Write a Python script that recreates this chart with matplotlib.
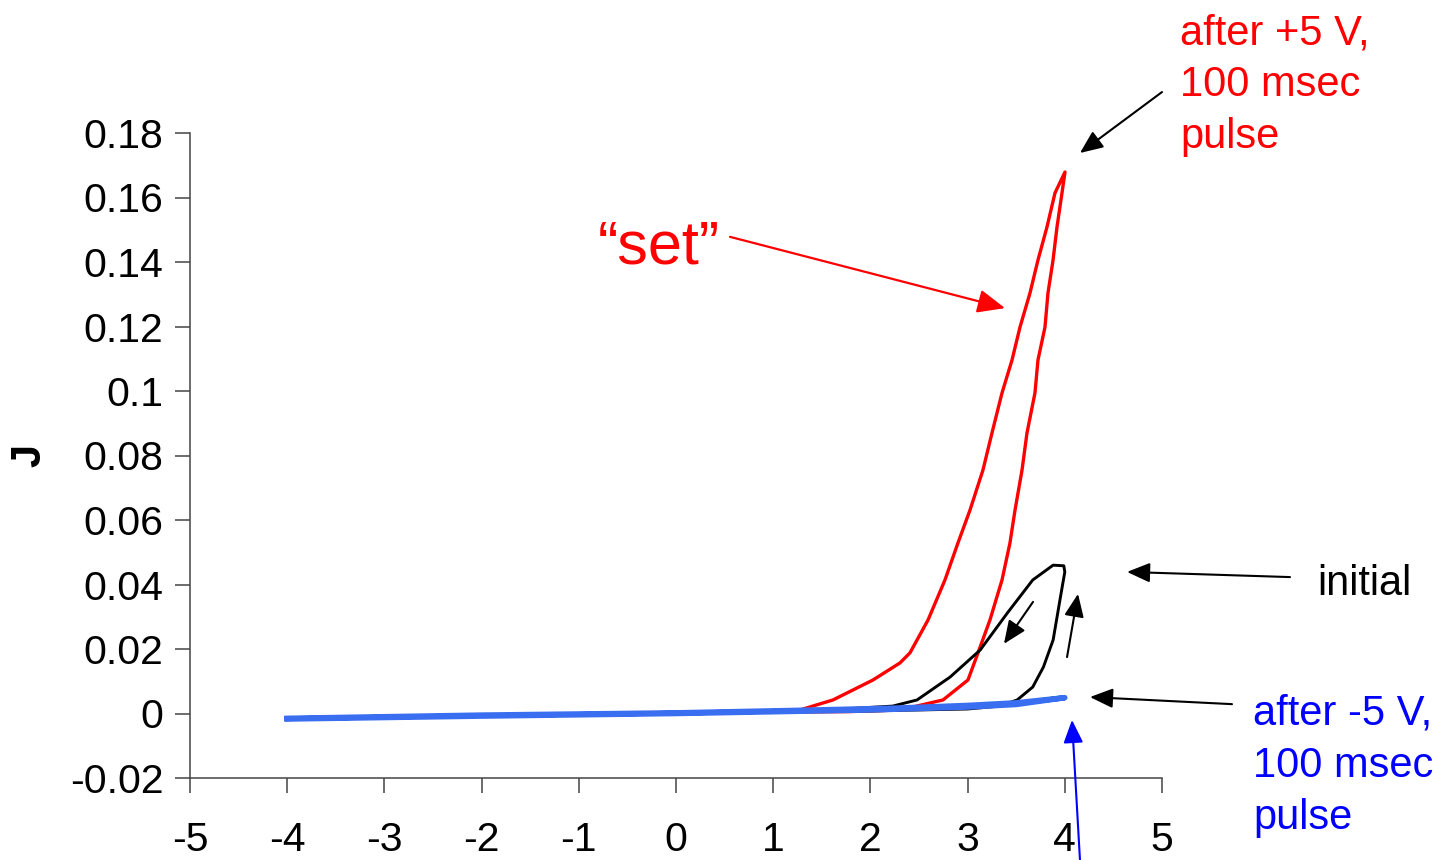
import matplotlib.pyplot as plt

plt.rcParams['font.family'] = ['Liberation Sans', 'DejaVu Sans']

# red loop ("set", after +5 V pulse): baseline out, right branch up, left branch down
red_v = [-4.0, -3.0, -2.0, -1.0, 0.0, 1.0, 1.79, 2.305, 2.747, 3.004, 3.107, 3.23,
         3.354, 3.436, 3.488, 3.56, 3.611, 3.693, 3.724, 3.796, 3.827, 3.879, 3.92,
         3.971, 4.002,
         3.899, 3.817, 3.724, 3.642, 3.539, 3.457, 3.354, 3.251, 3.158, 3.025, 2.901,
         2.767, 2.593, 2.407, 2.305, 2.027, 1.615, 1.276, 0.247, -1.0, -2.0, -3.0, -4.0]
red_j = [-0.0017, -0.0011, -0.0006, -0.0002, 0.0001, 0.0004, 0.0006, 0.0011, 0.0042,
         0.0104, 0.0188, 0.029, 0.0414, 0.0529, 0.0631, 0.0755, 0.087, 0.0994, 0.1096,
         0.1198, 0.1304, 0.1406, 0.1509, 0.1614, 0.1679,
         0.1614, 0.1509, 0.1406, 0.1304, 0.1198, 0.1096, 0.0994, 0.087, 0.0755, 0.0631,
         0.0529, 0.0414, 0.029, 0.0188, 0.0157, 0.0104, 0.0042, 0.0011, 0.0003,
         -0.0001, -0.0005, -0.001, -0.0016]

# black loop (initial)
init_v = [-4.0, -2.0, 0.0, 2.0, 3.0, 3.33, 3.51, 3.67, 3.78, 3.88, 3.95, 4.0, 3.99, 3.88,
          3.67, 3.41, 3.13, 2.82, 2.48, 2.23, 1.5, 0.0, -2.0, -4.0]
init_j = [-0.0014, -0.0006, 0.0001, 0.0008, 0.0014, 0.0023, 0.0042, 0.0082, 0.0144,
          0.0228, 0.0352, 0.0439, 0.0458, 0.046, 0.0414, 0.0312, 0.0197, 0.0113,
          0.0042, 0.0023, 0.001, 0.0002, -0.0006, -0.0014]

# blue (after -5 V pulse)
reset_v = [-4.0, -2.0, 0.0, 1.3, 2.3, 3.0, 3.5, 4.0, 3.5, 3.0, 2.0, 0.0, -2.0, -4.0]
reset_j = [-0.0015, -0.0005, 0.0002, 0.001, 0.0017, 0.0025, 0.0033, 0.0049,
           0.0028, 0.002, 0.0011, 0.0, -0.0008, -0.0017]

x_ticks = [-5, -4, -3, -2, -1, 0, 1, 2, 3, 4, 5]
x_labels = ['-5', '-4', '-3', '-2', '-1', '0', '1', '2', '3', '4', '5']
y_ticks = [-0.02, 0, 0.02, 0.04, 0.06, 0.08, 0.1, 0.12, 0.14, 0.16, 0.18]
y_labels = ['-0.02', '0', '0.02', '0.04', '0.06', '0.08', '0.1', '0.12', '0.14',
            '0.16', '0.18']

fig = plt.figure(figsize=(14.41, 8.6), dpi=100)
ax = fig.add_axes([190 / 1441, 82 / 860, 972 / 1441, 645 / 860])

ax.plot(red_v, red_j, color='#ff0000', lw=2.4, zorder=2)
ax.plot(init_v, init_j, color='black', lw=2.1, zorder=3)
ax.plot(reset_v, reset_j, color='#3a6ef0', lw=4.0, zorder=4)

ax.set_xlim(-5, 5)
ax.set_ylim(-0.02, 0.18)
ax.set_xticks(x_ticks, x_labels)
ax.set_yticks(y_ticks, y_labels)
ax.tick_params(labelsize=29.5, length=11, width=1.1, color='#444444')
ax.tick_params(axis='x', pad=20)
ax.tick_params(axis='y', pad=8)
for s in ['top', 'right']:
    ax.spines[s].set_visible(False)
for s in ['left', 'bottom']:
    ax.spines[s].set_color('#444444')
    ax.spines[s].set_linewidth(1.1)

fig.text(29 / 1441, 1 - 455 / 860, 'J', rotation=90, fontsize=30,
         fontweight='bold', ha='center', va='center')

# annotations
fig.text(1180 / 1441, 1 - 13 / 860, 'after +5 V,\n100 msec\npulse', color='#ff0000',
         fontsize=30, ha='left', va='top', linespacing=1.39)
fig.text(1253 / 1441, 1 - 694 / 860, 'after -5 V,\n100 msec\npulse', color='#0000ff',
         fontsize=30, ha='left', va='top', linespacing=1.39)
fig.text(1317 / 1441, 1 - 595 / 860, 'initial', color='black', fontsize=30,
         ha='left', va='baseline')
fig.text(598 / 1441, 1 - 264 / 860, '\u201cset\u201d', color='#ff0000', fontsize=44,
         ha='left', va='baseline')


def arrow(head, tail, color, lw=1.5, scale=20):
    ax.annotate('', xy=head, xytext=tail, annotation_clip=False,
                arrowprops=dict(arrowstyle='-|>,head_length=0.7,head_width=0.3',
                                color=color, lw=lw, mutation_scale=scale,
                                shrinkA=0, shrinkB=0))


arrow((4.156, 0.1738), (5.0, 0.1927), 'black')
arrow((3.385, 0.1257), (0.556, 0.1478), '#ff0000', lw=1.6, scale=24)
arrow((4.64, 0.0439), (6.317, 0.0423), 'black')
arrow((3.374, 0.0216), (3.673, 0.0346), 'black')
arrow((4.136, 0.0371), (4.023, 0.0175), 'black')
arrow((4.259, 0.0051), (5.72, 0.0029), 'black')
arrow((4.074, -0.002), (4.156, -0.0454), '#0000ff')

fig.savefig('out.png', dpi=100)
